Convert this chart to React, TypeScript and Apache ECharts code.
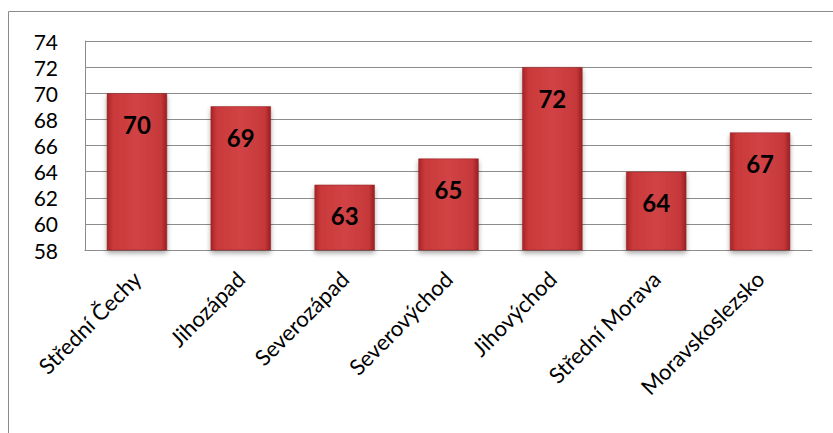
import React, { useEffect, useRef } from "react";
import * as echarts from "echarts";

const categories = ["Střední Čechy", "Jihozápad", "Severozápad", "Severovýchod", "Jihovýchod", "Střední Morava", "Moravskoslezsko"];
const values = [70, 69, 63, 65, 72, 64, 67];
const yTicks = { min: 58, max: 74, interval: 2 };

export default function App() {
  const ref = useRef<HTMLDivElement>(null);
  useEffect(() => {
    document.body.style.margin = "0";
    const chart = echarts.init(ref.current!, null, { renderer: "svg" });
    const font = "Lato, 'Open Sans', sans-serif";
    chart.setOption({
      animation: false,
      backgroundColor: "#ffffff",
      graphic: [
        {
          type: "rect",
          shape: { x: 8.5, y: 11.5, width: 900, height: 600 },
          style: { fill: "none", stroke: "#8c8c8c", lineWidth: 1 },
          silent: true,
        },
      ],
      grid: { left: 85, right: 21, top: 41, bottom: 183 },
      xAxis: {
        type: "category",
        data: categories,
        axisLine: { show: true, lineStyle: { color: "#8c8c8c", width: 1 } },
        axisTick: { show: false },
        axisLabel: {
          rotate: 45,
          interval: 0,
          margin: 25,
          color: "#000",
          fontSize: 22,
          fontFamily: font,
        },
      },
      yAxis: {
        type: "value",
        min: yTicks.min,
        max: yTicks.max,
        interval: yTicks.interval,
        axisLine: { show: true, lineStyle: { color: "#8c8c8c", width: 1 } },
        axisTick: { show: false },
        splitLine: { show: true, lineStyle: { color: "#8c8c8c", width: 1 } },
        axisLabel: { color: "#000", fontSize: 21, fontFamily: font, margin: 27 },
      },
      series: [
        {
          type: "bar",
          data: values,
          barWidth: "58%",
          itemStyle: {
            color: new echarts.graphic.LinearGradient(0, 0, 1, 0, [
              { offset: 0, color: "#a82426" },
              { offset: 0.1, color: "#c9393b" },
              { offset: 0.5, color: "#d14345" },
              { offset: 0.9, color: "#c6383a" },
              { offset: 1, color: "#9a1f20" },
            ]),
            borderColor: "#8e1e1f",
            borderWidth: 0.5,
            shadowColor: "rgba(0,0,0,0.35)",
            shadowBlur: 5,
            shadowOffsetY: 3,
          },
          label: {
            show: true,
            position: "insideTop",
            distance: 19,
            color: "#000",
            fontSize: 24,
            fontWeight: "bold",
            fontFamily: font,
          },
        },
      ],
    });
    return () => chart.dispose();
  }, []);
  return <div ref={ref} style={{ width: 833, height: 433 }} />;
}
